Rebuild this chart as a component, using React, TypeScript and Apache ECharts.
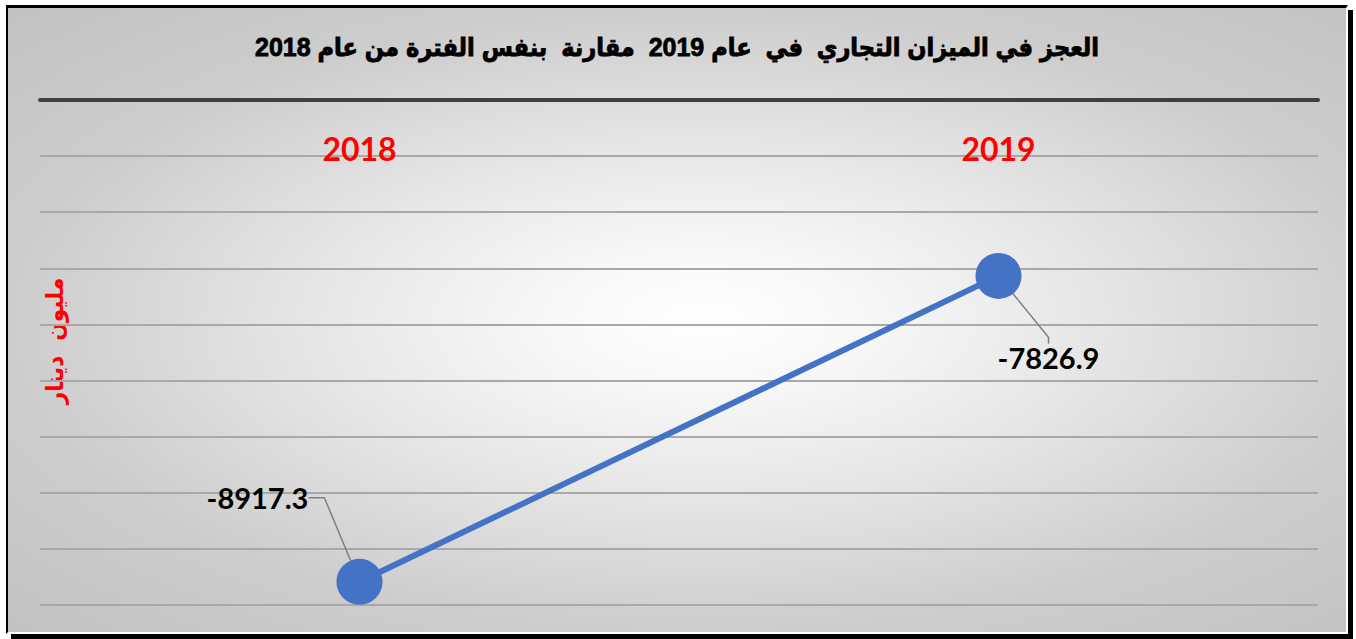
import React, { useEffect, useRef } from "react";
import * as echarts from "echarts";

const titleText = "\u200Fالعجز في الميزان التجاري  في  عام 2019  مقارنة  بنفس الفترة من عام 2018";
const years = ["2018", "2019"];
const deficit = [-8917.3, -7826.9];
const yMin = -9000;
const yMax = -7200;
const yStep = 200;
const unitLabel = "مليون  دينار";

export default function App() {
  const ref = useRef<HTMLDivElement>(null);
  useEffect(() => {
    if (!ref.current) return;
    const chart = echarts.init(ref.current, null, { renderer: "svg" });
    const leader = [16, 6];
    const shift = [
      { dx: -102, dy: -84 },
      { dx: 50, dy: 82 },
    ];
    chart.setOption({
      animation: false,
      backgroundColor: "transparent",
      title: {
        text: titleText,
        left: "center",
        top: 21,
        textStyle: {
          fontFamily: "Liberation Sans, DejaVu Sans Condensed, sans-serif",
          fontSize: 25,
          fontWeight: "bold",
          color: "#000",
          textBorderColor: "#000",
          textBorderWidth: 0.8,
        },
      },
      grid: { left: 32, right: 28, top: 92, bottom: 27 },
      xAxis: {
        type: "category",
        data: years,
        position: "top",
        boundaryGap: true,
        axisLine: { show: true, lineStyle: { color: "#404040", width: 4 } },
        axisTick: { show: false },
        axisLabel: {
          inside: true,
          margin: 32,
          color: "#ff0000",
          fontSize: 32,
          fontWeight: "bold",
          fontFamily: "Lato, sans-serif",
        },
      },
      yAxis: {
        type: "value",
        min: yMin,
        max: yMax,
        interval: yStep,
        axisLine: { show: false },
        axisTick: { show: false },
        axisLabel: { show: false },
        splitLine: { show: true, lineStyle: { color: "#a8a8a8", width: 2 } },
      },
      graphic: [
        {
          type: "text",
          x: 47,
          y: 333,
          rotation: Math.PI / 2,
          style: {
            text: unitLabel,
            fill: "#ff0000",
            fontSize: 24,
            fontWeight: "bold",
            fontFamily: "DejaVu Sans Condensed, DejaVu Sans, sans-serif",
            align: "center",
            verticalAlign: "middle",
          },
        },
      ],
      series: [
        {
          type: "line",
          data: deficit.map((v, i) => ({ value: v, labelLine: { length2: leader[i] } })),
          symbol: "circle",
          symbolSize: 46,
          itemStyle: { color: "#4472C4" },
          lineStyle: { color: "#4472C4", width: 6 },
          label: {
            show: true,
            position: "inside",
            formatter: "{c}",
            color: "#000",
            fontSize: 29,
            fontWeight: "bold",
            fontFamily: "Lato, sans-serif",
          },
          labelLine: {
            show: true,
            length2: 16,
            lineStyle: { color: "#7f7f7f", width: 1.5 },
          },
          labelLayout: (params: any) => shift[params.dataIndex],
        },
      ],
    });
    return () => chart.dispose();
  }, []);

  return (
    <div
      style={{
        position: "absolute",
        left: 6,
        top: 5,
        borderTop: "3px solid #000",
        borderLeft: "2px solid #000",
        borderRight: "2px solid #fff",
        borderBottom: "2px solid #fff",
        boxShadow: "5px 5px 0 #000",
        background:
          "radial-gradient(ellipse at 52% 50%, #ffffff 0%, #f8f8f8 15%, #e6e6e6 40%, #cdcdcd 70%, #c2c2c2 100%)",
      }}
    >
      <div ref={ref} style={{ width: 1338, height: 624 }} />
    </div>
  );
}
